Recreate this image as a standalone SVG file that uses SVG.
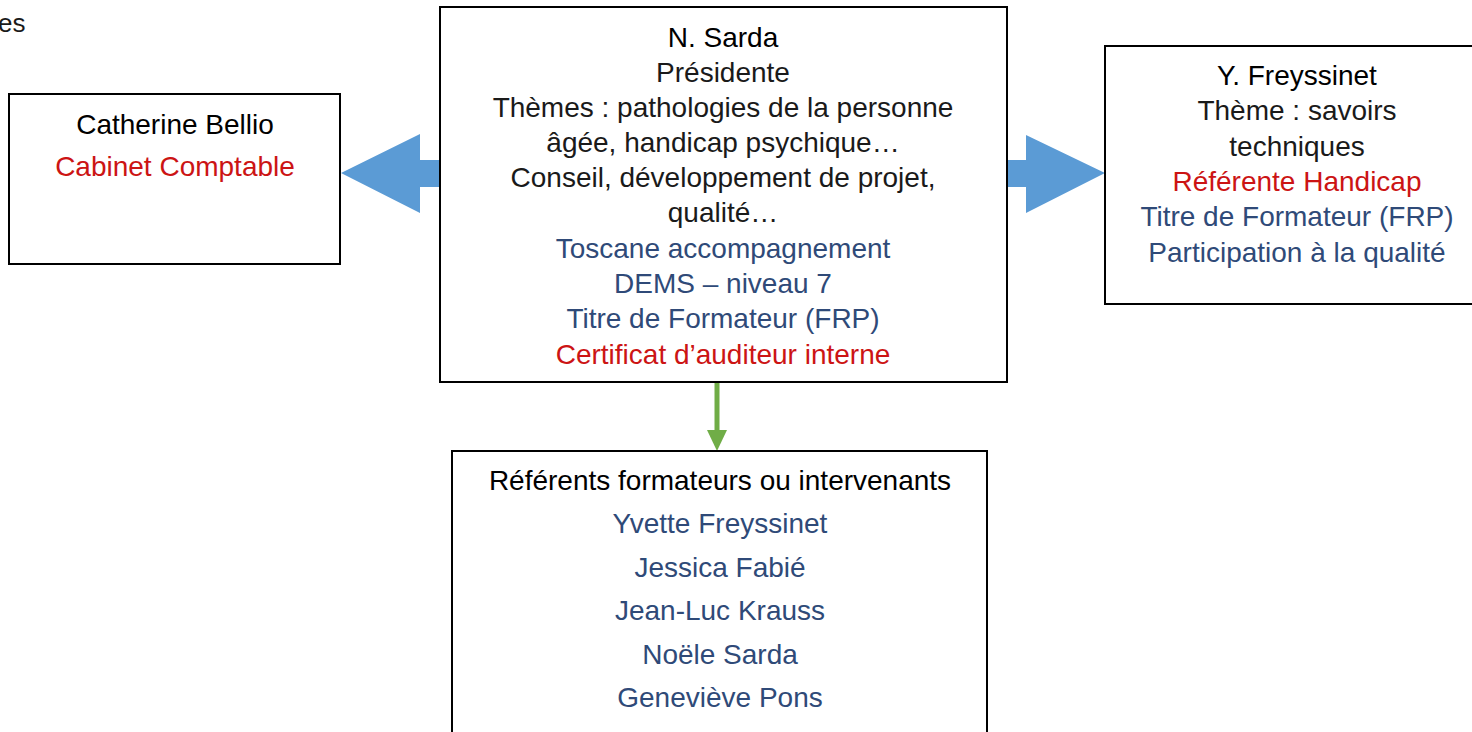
<svg xmlns="http://www.w3.org/2000/svg" width="1472" height="732" viewBox="0 0 1472 732">
<style>
text{font-family:"Liberation Sans",Arial,sans-serif;font-size:28px;text-anchor:middle}
.k{fill:#000}
.g{fill:#1a1a1a}
.r{fill:#CC1414}
.b{fill:#2F4A78}
.box{fill:#fff;stroke:#000;stroke-width:2}
</style>
<rect width="1472" height="732" fill="#fff"/>
<text x="-2" y="32" style="text-anchor:start;font-size:26px" class="g">es</text>
<g id="connectors">
<polygon points="440,160 420,160 420,134 341,173 420,213 420,187 440,187" fill="#5B9BD5"/>
<polygon points="1007,160 1026,160 1026,135 1105,173 1026,213 1026,187 1007,187" fill="#5B9BD5"/>
<line x1="717" y1="383" x2="717" y2="432" stroke="#70AD47" stroke-width="5"/>
<polygon points="707,430 727,430 717,451" fill="#70AD47"/>
</g>
<g id="bellio">
<rect class="box" x="9" y="94" width="331" height="170"/>
<text x="175" y="134" class="k">Catherine Bellio</text>
<text x="175" y="176" class="r">Cabinet Comptable</text>
</g>
<g id="sarda">
<rect class="box" x="440" y="7" width="567" height="375"/>
<text x="723" y="47" class="k">N. Sarda</text>
<text x="723" y="82" class="g">Présidente</text>
<text x="723" y="117" class="g">Thèmes : pathologies de la personne</text>
<text x="723" y="152" class="g">âgée, handicap psychique…</text>
<text x="723" y="187" class="g">Conseil, développement de projet,</text>
<text x="723" y="222" class="g">qualité…</text>
<text x="723" y="258" class="b">Toscane accompagnement</text>
<text x="723" y="293" class="b">DEMS – niveau 7</text>
<text x="723" y="328" class="b">Titre de Formateur (FRP)</text>
<text x="723" y="364" class="r">Certificat d’auditeur interne</text>
</g>
<g id="freyssinet">
<rect class="box" x="1105" y="46" width="385" height="258"/>
<text x="1297" y="85" class="k">Y. Freyssinet</text>
<text x="1297" y="120" class="g">Thème : savoirs</text>
<text x="1297" y="156" class="g">techniques</text>
<text x="1297" y="191" class="r">Référente Handicap</text>
<text x="1297" y="226" class="b">Titre de Formateur (FRP)</text>
<text x="1297" y="262" class="b">Participation à la qualité</text>
</g>
<g id="referents">
<rect class="box" x="452" y="451" width="535" height="300"/>
<text x="720" y="490" class="k">Référents formateurs ou intervenants</text>
<text x="720" y="533" class="b">Yvette Freyssinet</text>
<text x="720" y="577" class="b">Jessica Fabié</text>
<text x="720" y="620" class="b">Jean-Luc Krauss</text>
<text x="720" y="664" class="b">Noële Sarda</text>
<text x="720" y="707" class="b">Geneviève Pons</text>
</g>
</svg>
